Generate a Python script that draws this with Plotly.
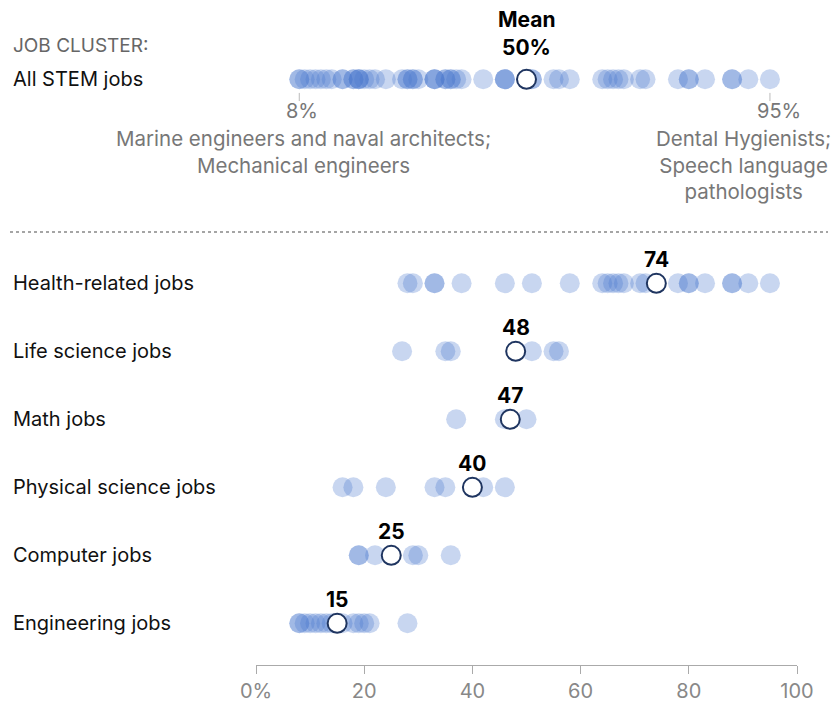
import plotly.graph_objects as go

# ---------------- data ----------------
clusters = ["Health-related jobs", "Life science jobs", "Math jobs",
            "Physical science jobs", "Computer jobs", "Engineering jobs"]
health = [28, 29, 33, 33, 38, 46, 51, 58, 64, 65, 66, 67, 68, 71, 72,
          78, 80, 80, 83, 88, 88, 91, 95]
life = [27, 35, 36, 51, 55, 56]
math_jobs = [37, 46, 50]
physical = [16, 18, 24, 33, 35, 42, 46]
computer = [19, 19, 22, 29, 30, 36]
engineering = [8, 8, 9, 10, 11, 12, 13, 14, 16, 18, 19, 20, 21, 28]
cluster_values = [health, life, math_jobs, physical, computer, engineering]
cluster_means = [74, 48, 47, 40, 25, 15]
all_label = "All STEM jobs"
all_mean = 50
all_min, all_max = 8, 95
min_note = "Marine engineers and naval architects;<br>Mechanical engineers"
max_note = "Dental Hygienists;<br>Speech language<br>pathologists"
tick_vals = [0, 20, 40, 60, 80, 100]
tick_text = ["0%", "20", "40", "60", "80", "100"]

# ---------------- style ----------------
FONT = "Inter, Roboto, sans-serif"
DOT = "rgba(74,120,204,0.30)"
NAVY = "#1F3560"
GRAY = "#777777"
spacers = [" ", "  "]
categories = [all_label] + spacers + clusters

# page body has an 8px margin: figure is placed at (8, 8) in the window
OFF = 8
PLOT_L = 256      # page px of x=0
PLOT_W = 541.0    # px from 0 to 100
PLOT_BOTTOM = 665 # page px of x-axis line
PLOT_H = PLOT_BOTTOM - OFF
ROW_PX = 68.0
ROW0 = 79.3 - OFF
top_val = -ROW0 / ROW_PX
bot_val = top_val + PLOT_H / ROW_PX

fig = go.Figure()

all_values = [v for vals in cluster_values for v in vals]
rows = [(all_label, all_values)] + list(zip(clusters, cluster_values))
for name, vals in rows:
    fig.add_trace(go.Scatter(
        x=vals, y=[name] * len(vals), mode="markers",
        marker=dict(size=20, color=DOT, line=dict(width=0)),
        hoverinfo="x", showlegend=False, cliponaxis=False))

means = [all_mean] + cluster_means
mean_rows = [all_label] + clusters
fig.add_trace(go.Scatter(
    x=means, y=mean_rows, mode="markers",
    marker=dict(size=19, color="white", line=dict(width=2, color=NAVY)),
    showlegend=False, hoverinfo="x", cliponaxis=False))

ann = []
def px_x(p):
    return (p - PLOT_L) / PLOT_W

# left labels
for name in mean_rows:
    ann.append(dict(text=name, x=px_x(11), xref="paper", y=name, yref="y",
                    xanchor="left", yanchor="middle", showarrow=False,
                    font=dict(size=20, color="#111", family=FONT)))
ann.append(dict(text="JOB CLUSTER:", x=px_x(11), xref="paper", y=all_label,
                yref="y", yshift=34, xanchor="left", yanchor="middle",
                showarrow=False, font=dict(size=19, color="#666", family=FONT)))
# mean labels
for name, m in zip(clusters, cluster_means):
    ann.append(dict(text="<b>%d</b>" % m, x=m, y=name, yshift=24,
                    xanchor="center", yanchor="middle", showarrow=False,
                    font=dict(size=21, color="#000", family=FONT)))
ann.append(dict(text="<b>%d%%</b>" % all_mean, x=all_mean, y=all_label,
                yshift=32, xanchor="center", yanchor="middle", showarrow=False,
                font=dict(size=21, color="#000", family=FONT)))
ann.append(dict(text="<b>Mean</b>", x=all_mean, y=all_label,
                yshift=60, xanchor="center", yanchor="middle", showarrow=False,
                font=dict(size=21, color="#000", family=FONT)))
# min / max notes
ann.append(dict(text="%d%%" % all_min, x=all_min, y=all_label, yshift=-32,
                xshift=3, xanchor="center", yanchor="middle", showarrow=False,
                font=dict(size=20, color=GRAY, family=FONT)))
ann.append(dict(text="%d%%" % all_max, x=all_max, y=all_label, yshift=-32,
                xshift=9, xanchor="center", yanchor="middle", showarrow=False,
                font=dict(size=20, color=GRAY, family=FONT)))
ann.append(dict(text=min_note, x=all_min, y=all_label, yshift=-45, xshift=4,
                xanchor="center", yanchor="top", showarrow=False, align="center",
                font=dict(size=20.5, color=GRAY, family=FONT)))
ann.append(dict(text=max_note, x=all_max, y=all_label, yshift=-45, xshift=-26,
                xanchor="center", yanchor="top", showarrow=False, align="center",
                font=dict(size=20.5, color=GRAY, family=FONT)))

sep_y = 1 - (232 - OFF) / PLOT_H
shapes = [
    dict(type="line", xref="x", yref="y", x0=all_min, x1=all_min,
         y0=0.2, y1=0.32, line=dict(color="#bbb", width=1)),
    dict(type="line", xref="x", yref="y", x0=all_max, x1=all_max,
         y0=0.2, y1=0.32, line=dict(color="#bbb", width=1)),
    dict(type="line", xref="paper", yref="paper", x0=px_x(10), x1=px_x(828),
         y0=sep_y, y1=sep_y,
         line=dict(color="#888", width=1.5, dash="dot")),
]

fig_w = 840 - OFF
fig_h = 704 - OFF
fig.update_layout(
    width=fig_w, height=fig_h,
    margin=dict(l=PLOT_L - OFF, r=fig_w - (PLOT_L - OFF) - int(PLOT_W), t=0,
                b=fig_h - PLOT_H),
    paper_bgcolor="white", plot_bgcolor="white",
    font=dict(family=FONT),
    xaxis=dict(range=[0, 100], tickvals=tick_vals, ticktext=tick_text,
               showgrid=False, zeroline=False, showline=True,
               linecolor="#aaa", linewidth=1, ticks="outside", ticklen=8,
               tickcolor="#aaa", tickfont=dict(size=20, color="#888", family=FONT)),
    yaxis=dict(type="category", categoryorder="array", categoryarray=categories,
               range=[bot_val, top_val], visible=False),
    annotations=ann, shapes=shapes,
)

fig.write_html("out.html")
